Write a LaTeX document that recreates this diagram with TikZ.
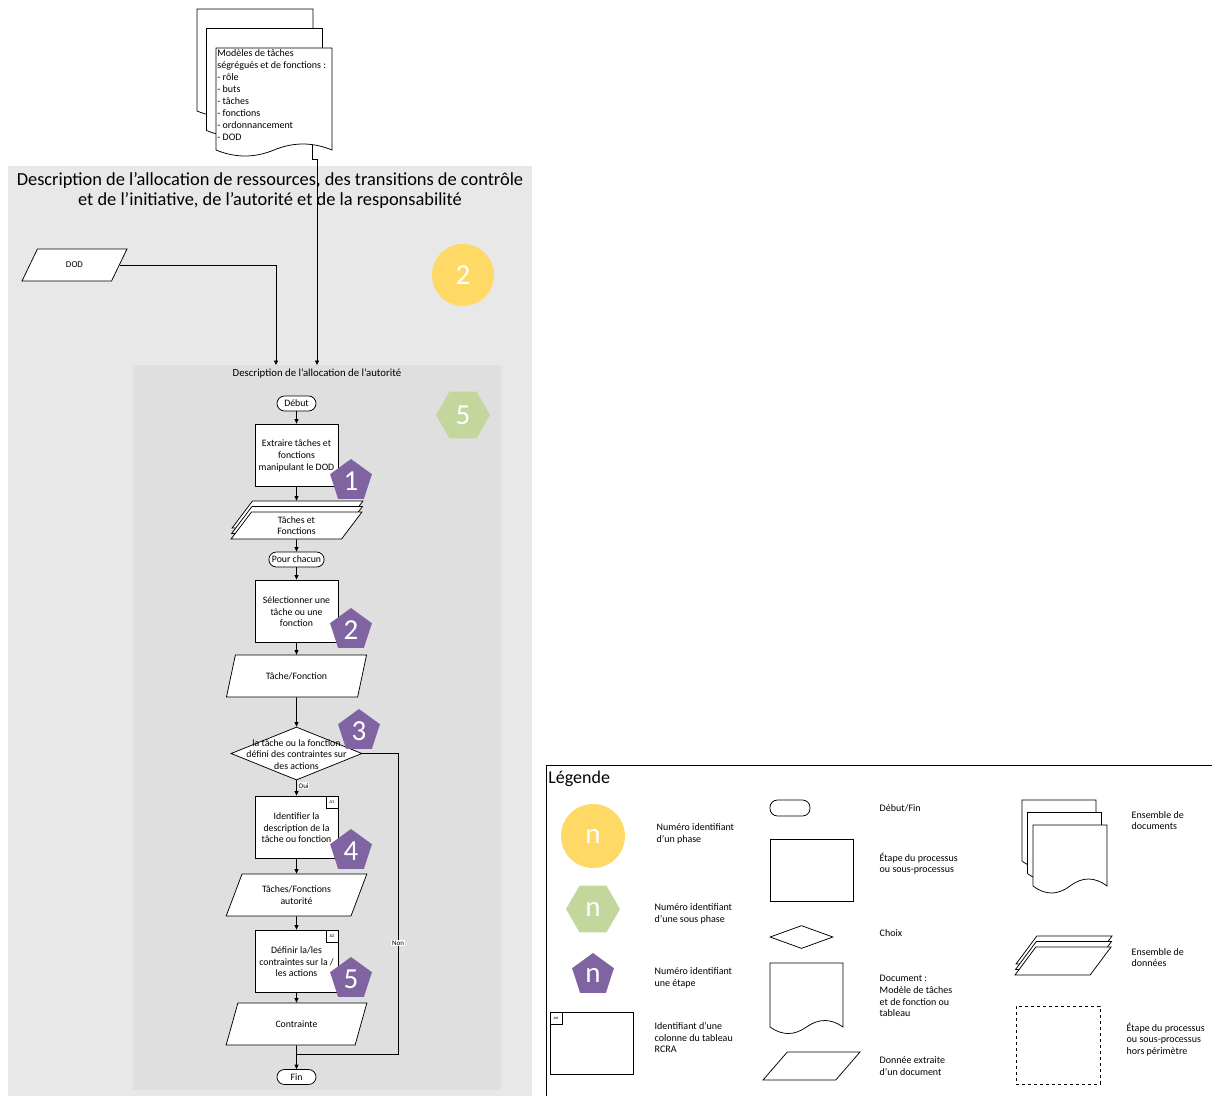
\documentclass[tikz,border=0pt]{standalone}
\usepackage{fontspec}
\setmainfont{Carlito}
\usetikzlibrary{arrows.meta, positioning, shapes.geometric, shadows}
\definecolor{phasecol}{RGB}{255,217,102}
\definecolor{subphasecol}{RGB}{195,214,155}
\definecolor{stepcol}{RGB}{128,100,162}
\definecolor{outergray}{RGB}{232,232,232}
\definecolor{innergray}{RGB}{223,223,223}
\newcommand{\docshape}[5]{%
  \draw[fill=white] (#1,#2) -- (#1+#3,#2) -- (#1+#3,#4)
    .. controls (#1+#3*5/6,#4-#5*4/3) and (#1+#3*4/6,#4-#5*4/3) .. (#1+#3/2,#4)
    .. controls (#1+#3*2/6,#4+#5*4/3) and (#1+#3/6,#4+#5*4/3) .. (#1,#4) -- cycle;}

\begin{document}
\begin{tikzpicture}[
  x=1pt, y=-1pt, line width=0.75pt,
  font=\fontsize{9.8}{11.7}\selectfont,
  proc/.style={draw, fill=white, minimum width=83pt, minimum height=62pt,
               align=center, inner sep=1pt},
  term/.style={draw, fill=white, rounded corners=7.5pt, minimum height=15pt,
               minimum width=39pt, inner xsep=3pt, inner ysep=1pt},
  data/.style={draw, fill=white, trapezium, trapezium stretches=true,
               trapezium left angle=63.4, trapezium right angle=116.6,
               minimum width=141pt, minimum height=42pt, align=center, inner sep=1pt},
  datastack/.style={data, minimum width=131pt, minimum height=27pt,
               trapezium left angle=66, trapezium right angle=114,
               copy shadow={shadow xshift=1pt, shadow yshift=11pt},
               copy shadow={shadow xshift=0.5pt, shadow yshift=5.5pt}},
  choice/.style={draw, fill=white, diamond, minimum width=131pt,
                 minimum height=53pt, inner sep=0pt},
  tag/.style={draw, fill=white, minimum size=12pt, inner sep=0pt,
              font=\fontsize{4.5}{4.5}\selectfont},
  phase/.style={circle, fill=phasecol, text=white, minimum size=62pt,
                inner sep=0pt, font=\fontsize{29}{29}\selectfont},
  subphase/.style={regular polygon, regular polygon sides=6, fill=subphasecol,
                   text=white, minimum size=54pt, inner sep=0pt,
                   font=\fontsize{29}{29}\selectfont},
  stepnum/.style={regular polygon, regular polygon sides=5, fill=stepcol,
                  text=white, minimum size=44pt, inner sep=0pt,
                  font=\fontsize{29}{29}\selectfont},
  arr/.style={-{Triangle[length=4.5pt,width=4pt]}},
  lbl/.style={fill=white, inner sep=0.8pt, font=\fontsize{7}{7}\selectfont},
  legtext/.style={anchor=west, align=left, font=\fontsize{10}{11.7}\selectfont}
]
  \useasboundingbox (0,0) rectangle (1212,1095);
  \clip (0,0) rectangle (1212,1095);

  \fill[outergray] (8,166) rectangle (532,1100);
  \fill[innergray] (133,365) rectangle (501,1090);

  \node[align=center, font=\fontsize{18.4}{20}\selectfont] (title) at (270,190)
    {Description de l’allocation de ressources, des transitions de contrôle\\
     et de l’initiative, de l’autorité et de la responsabilité};
  \node[font=\fontsize{10.8}{12}\selectfont] (subtitle) at (317,374)
    {Description de l’allocation de l’autorité};

  \coordinate (docout) at (312,144);
  \coordinate (in1) at (276,365);
  \coordinate (in2) at (317,365);
  \draw[arr] (docout) -- ++(0,15) -| (in2);

  \begin{scope}[shift={(-19,-39)}]\docshape{216}{48}{116}{150}{6}\end{scope}
  \begin{scope}[shift={(-9.5,-19.5)}]\docshape{216}{48}{116}{150}{6}\end{scope}
  \docshape{216}{48}{116}{150}{6}
  \node[anchor=north west, align=left, inner sep=1pt,
        font=\fontsize{10}{12}\selectfont] (doctxt) at (216,48)
    {Modèles de tâches\\ségrégués et de fonctions :\\- rôle\\- buts\\- tâches\\
     - fonctions\\- ordonnancement\\- DOD};

  \node[data, minimum width=105pt, minimum height=32pt,
        font=\fontsize{9}{10}\selectfont] (dod) at (74.5,265) {DOD};
  \draw[arr] (dod.east) -| (in1);

  \node[phase] (ph2) at (463,275) {2};
  \node[subphase] (sp5) at (463,415) {5};

  \node[term] (debut) at (296.5,403.5) {Début};
  \node[proc] (b1) at (296.5,455) {\strut Extraire tâches et\\fonctions\\manipulant le DOD};
  \node[datastack] (d1) at (296.5,525.5) {Tâches et\\Fonctions};
  \node[term] (pc) at (296.5,559.5) {Pour chacun};
  \node[proc] (b2) at (296.5,611) {\strut Sélectionner une\\tâche ou une\\fonction};
  \node[data] (d2) at (296.5,676) {Tâche/Fonction};
  \node[choice, label={[align=center, yshift=-1pt]center:
        la tâche ou la fonction\\défini des contraintes sur\\des actions}]
        (c1) at (296.5,753.5) {};
  \node[proc] (b3) at (296.5,827) {\strut Identifier la\\description de la\\tâche ou fonction};
  \node[tag, anchor=north east] (a1) at (b3.north east) {A1};
  \node[data] (d3) at (296.5,895) {Tâches/Fonctions\\autorité};
  \node[proc] (b4) at (296.5,961) {\strut Définir la/les\\contraintes sur la /\\les actions};
  \node[tag, anchor=north east] (a2) at (b4.north east) {A2};
  \node[data] (d4) at (296.5,1024) {Contrainte};
  \node[term] (fin) at (296.5,1077) {Fin};

  \node[stepnum] (s1) at (351,481) {1};
  \node[stepnum] (s2) at (351,630) {2};
  \node[stepnum] (s3) at (359,731) {3};
  \node[stepnum] (s4) at (351,851) {4};
  \node[stepnum] (s5) at (351,979) {5};

  \draw[arr] (debut) -- (b1);
  \draw[arr, shorten >=11pt] (b1) -- (d1);
  \draw[arr] (d1) -- (pc);
  \draw[arr] (pc) -- (b2);
  \draw[arr] (b2) -- (d2);
  \draw[arr] (d2) -- (c1);
  \draw[arr] (c1) -- node[lbl, right=1pt, pos=0.35] (oui) {Oui} (b3);
  \draw[arr] (b3) -- (d3);
  \draw[arr] (d3) -- (b4);
  \draw[arr] (b4) -- (d4);
  \draw[arr] (d4) -- (fin);
  \coordinate (nonc) at (398,753.5);
  \coordinate (join) at (296.5,1054);
  \draw (c1.east) -- (nonc) |- (join) node[lbl, pos=0.316] (non) {Non};

  \draw (546,1100) -- (546,765) -- (1215,765);
  \node[anchor=west, font=\fontsize{18}{20}\selectfont, inner sep=0pt] (legtitle)
    at (548,779) {Légende};

  \node[phase, minimum size=64pt] (lphase) at (593,836) {n};
  \node[legtext] (lt1) at (653,834) {Numéro identifiant\\d’un phase};
  \node[subphase] (lsub) at (593,909) {n};
  \node[legtext] (lt2) at (651,914) {Numéro identifiant\\d’une sous phase};
  \node[stepnum] (lstep) at (593,975) {n};
  \node[legtext] (lt3) at (651,977.5) {Numéro identifiant\\une étape};
  \node[proc] (lcol) at (591.5,1043) {};
  \node[tag, anchor=north west] (lan) at (lcol.north west) {an};
  \node[legtext] (lt4) at (651,1037.5) {Identifiant d’une\\colonne du tableau\\RCRA};

  \node[term, minimum width=40pt, minimum height=16pt] (lterm) at (790,808) {};
  \node[legtext] (lt5) at (876,808.5) {Début/Fin};
  \node[proc] (lproc) at (811.5,870) {};
  \node[legtext] (lt6) at (876,863.5) {Étape du processus\\ou sous-processus};
  \node[choice, minimum width=63pt, minimum height=23pt] (lchoice) at (801.5,937) {};
  \node[legtext] (lt7) at (876,933.5) {Choix};
  \docshape{770}{963}{73}{1027}{6.5}
  \node[legtext] (lt8) at (876,996) {Document :\\Modèle de tâches\\et de fonction ou\\tableau};
  \node[data, minimum width=97pt, minimum height=28pt] (ldata) at (811.5,1066) {};
  \node[legtext] (lt9) at (876,1066) {Donnée extraite\\d’un document};

  \begin{scope}[shift={(-11,-25)}]\docshape{1033}{825}{74}{886}{7}\end{scope}
  \begin{scope}[shift={(-5.5,-12.5)}]\docshape{1033}{825}{74}{886}{7}\end{scope}
  \docshape{1033}{825}{74}{886}{7}
  \node[legtext] (lt10) at (1128,820.5) {Ensemble de\\documents};
  \node[datastack, minimum width=96pt, minimum height=28pt,
        trapezium left angle=69, trapezium right angle=111] (lstack) at (1063,961) {};
  \node[legtext] (lt11) at (1128,957.5) {Ensemble de\\données};
  \node[draw, dashed, minimum width=84pt, minimum height=78pt] (lout) at (1058,1045) {};
  \node[legtext] (lt12) at (1123,1039.5) {Étape du processus\\ou sous-processus\\hors périmètre};
\end{tikzpicture}
\end{document}
